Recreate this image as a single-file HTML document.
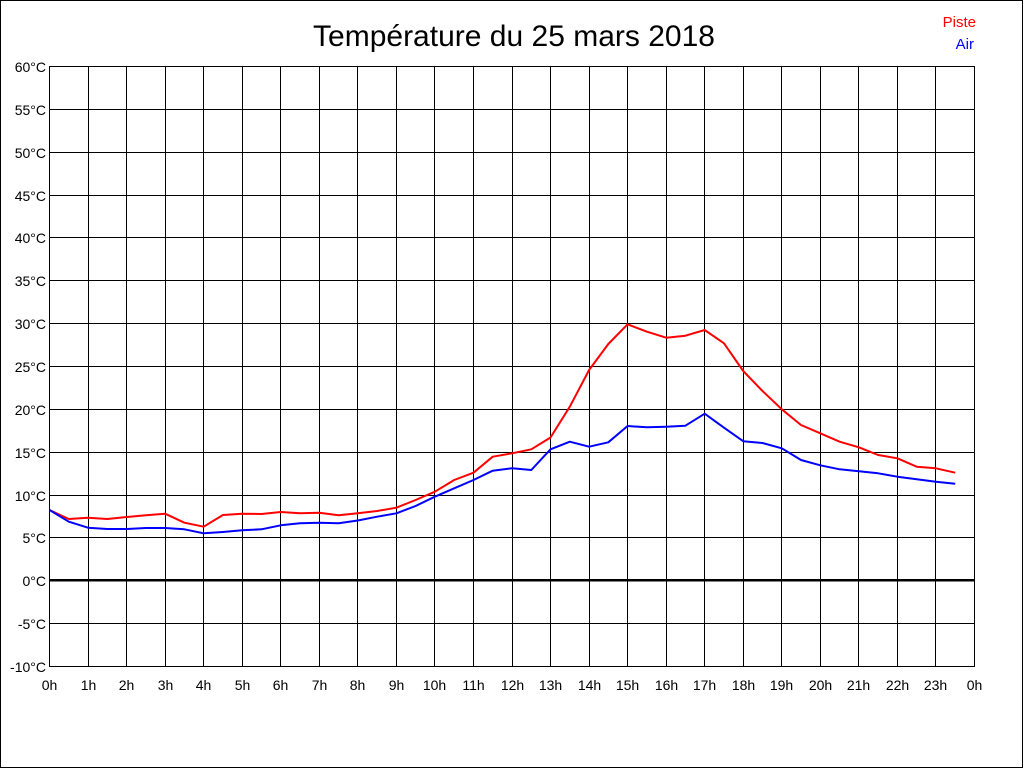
<!DOCTYPE html>
<html><head><meta charset="utf-8"><style>
html,body{margin:0;padding:0;background:#fff;}
svg{display:block;}
text{font-family:"Liberation Sans",Arial,sans-serif;}
</style></head><body>
<svg width="1024" height="768" viewBox="0 0 1024 768" xmlns="http://www.w3.org/2000/svg">
<rect x="0" y="0" width="1024" height="768" fill="#fff"/>
<rect x="0.5" y="0.5" width="1022" height="767" fill="none" stroke="#000" stroke-width="1"/>
<text x="514" y="46" font-size="29.5" text-anchor="middle" textLength="402" lengthAdjust="spacingAndGlyphs" fill="#000">Température du 25 mars 2018</text>
<text x="976" y="27" font-size="15" text-anchor="end" fill="#ff0000">Piste</text>
<text x="974" y="49" font-size="15" text-anchor="end" fill="#0000ff">Air</text>
<g stroke="#000" stroke-width="1" shape-rendering="crispEdges" fill="none">
<line x1="49" y1="66.5" x2="975" y2="66.5"/>
<line x1="49" y1="109.5" x2="975" y2="109.5"/>
<line x1="49" y1="152.5" x2="975" y2="152.5"/>
<line x1="49" y1="195.5" x2="975" y2="195.5"/>
<line x1="49" y1="237.5" x2="975" y2="237.5"/>
<line x1="49" y1="280.5" x2="975" y2="280.5"/>
<line x1="49" y1="323.5" x2="975" y2="323.5"/>
<line x1="49" y1="366.5" x2="975" y2="366.5"/>
<line x1="49" y1="409.5" x2="975" y2="409.5"/>
<line x1="49" y1="452.5" x2="975" y2="452.5"/>
<line x1="49" y1="495.5" x2="975" y2="495.5"/>
<line x1="49" y1="537.5" x2="975" y2="537.5"/>
<line x1="49" y1="623.5" x2="975" y2="623.5"/>
<line x1="49" y1="666.5" x2="975" y2="666.5"/>
<line x1="49.5" y1="66" x2="49.5" y2="667"/>
<line x1="88.5" y1="66" x2="88.5" y2="667"/>
<line x1="126.5" y1="66" x2="126.5" y2="667"/>
<line x1="165.5" y1="66" x2="165.5" y2="667"/>
<line x1="203.5" y1="66" x2="203.5" y2="667"/>
<line x1="242.5" y1="66" x2="242.5" y2="667"/>
<line x1="280.5" y1="66" x2="280.5" y2="667"/>
<line x1="319.5" y1="66" x2="319.5" y2="667"/>
<line x1="357.5" y1="66" x2="357.5" y2="667"/>
<line x1="396.5" y1="66" x2="396.5" y2="667"/>
<line x1="434.5" y1="66" x2="434.5" y2="667"/>
<line x1="473.5" y1="66" x2="473.5" y2="667"/>
<line x1="512.5" y1="66" x2="512.5" y2="667"/>
<line x1="550.5" y1="66" x2="550.5" y2="667"/>
<line x1="589.5" y1="66" x2="589.5" y2="667"/>
<line x1="627.5" y1="66" x2="627.5" y2="667"/>
<line x1="666.5" y1="66" x2="666.5" y2="667"/>
<line x1="704.5" y1="66" x2="704.5" y2="667"/>
<line x1="743.5" y1="66" x2="743.5" y2="667"/>
<line x1="781.5" y1="66" x2="781.5" y2="667"/>
<line x1="820.5" y1="66" x2="820.5" y2="667"/>
<line x1="858.5" y1="66" x2="858.5" y2="667"/>
<line x1="897.5" y1="66" x2="897.5" y2="667"/>
<line x1="935.5" y1="66" x2="935.5" y2="667"/>
<line x1="974.5" y1="66" x2="974.5" y2="667"/>
</g>
<rect x="49" y="579" width="926" height="2.5" fill="#000" shape-rendering="crispEdges"/>
<g font-size="14" fill="#000" text-anchor="end">
<text x="46" y="72">60°C</text>
<text x="46" y="115">55°C</text>
<text x="46" y="158">50°C</text>
<text x="46" y="201">45°C</text>
<text x="46" y="243">40°C</text>
<text x="46" y="286">35°C</text>
<text x="46" y="329">30°C</text>
<text x="46" y="372">25°C</text>
<text x="46" y="415">20°C</text>
<text x="46" y="458">15°C</text>
<text x="46" y="501">10°C</text>
<text x="46" y="543">5°C</text>
<text x="46" y="586">0°C</text>
<text x="46" y="629">-5°C</text>
<text x="46" y="672">-10°C</text>
</g>
<g font-size="14" fill="#000" text-anchor="middle">
<text x="49.5" y="690">0h</text>
<text x="88.5" y="690">1h</text>
<text x="126.5" y="690">2h</text>
<text x="165.5" y="690">3h</text>
<text x="203.5" y="690">4h</text>
<text x="242.5" y="690">5h</text>
<text x="280.5" y="690">6h</text>
<text x="319.5" y="690">7h</text>
<text x="357.5" y="690">8h</text>
<text x="396.5" y="690">9h</text>
<text x="434.5" y="690">10h</text>
<text x="473.5" y="690">11h</text>
<text x="512.5" y="690">12h</text>
<text x="550.5" y="690">13h</text>
<text x="589.5" y="690">14h</text>
<text x="627.5" y="690">15h</text>
<text x="666.5" y="690">16h</text>
<text x="704.5" y="690">17h</text>
<text x="743.5" y="690">18h</text>
<text x="781.5" y="690">19h</text>
<text x="820.5" y="690">20h</text>
<text x="858.5" y="690">21h</text>
<text x="897.5" y="690">22h</text>
<text x="935.5" y="690">23h</text>
<text x="974.5" y="690">0h</text>
</g>
<polyline fill="none" stroke="#ff0000" stroke-width="2" stroke-linejoin="round" points="49.5,510 68.8,519 88,517.7 107.3,519 126.6,517 145.9,515.3 165.1,513.7 184.4,522.7 203.7,526.7 222.9,515 242.2,513.7 261.5,514 280.8,512 300,513.3 319.3,512.7 338.6,515.3 357.8,513.3 377.1,511 396.4,507.7 415.6,500 434.9,491.7 454.2,480 473.5,472.7 492.7,456.7 512,453.3 531.3,449.3 550.5,437.5 569.8,406.7 589.1,370 608.3,344 627.6,324.3 646.9,331.7 666.2,337.7 685.4,335.7 704.7,330 724,343.3 743.2,371 762.5,391 781.8,409.3 801,425 820.3,433.3 839.6,441.7 858.9,447.3 878.1,455 897.4,458.3 916.7,466.7 935.9,468.3 955.2,472.7"/>
<polyline fill="none" stroke="#0000ff" stroke-width="2" stroke-linejoin="round" points="49.5,510 68.8,521.7 88,527.7 107.3,529 126.6,529 145.9,528 165.1,528 184.4,529.3 203.7,533.3 222.9,532 242.2,530.3 261.5,529.3 280.8,525.3 300,523.3 319.3,522.7 338.6,523.3 357.8,520.5 377.1,516.7 396.4,513.3 415.6,506 434.9,496.7 454.2,488.3 473.5,480 492.7,470.7 512,468.3 531.3,470 550.5,449.3 569.8,441.7 589.1,446.7 608.3,442.3 627.6,426 646.9,427.3 666.2,426.7 685.4,425.7 704.7,413.7 724,427.7 743.2,441.2 762.5,443 781.8,448.3 801,460 820.3,465.3 839.6,469.3 858.9,471.3 878.1,473.3 897.4,476.7 916.7,479.3 935.9,481.7 955.2,483.7"/>
</svg>
</body></html>
